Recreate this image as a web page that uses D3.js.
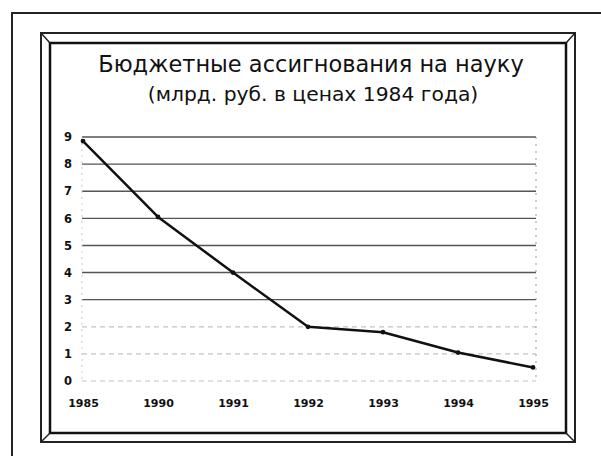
<!DOCTYPE html>
<html>
<head>
<meta charset="utf-8">
<script src="https://cdn.jsdelivr.net/npm/d3@7"></script>
<style>
body{margin:0;background:#fff;}
</style>
</head>
<body>
<div id="chart"></div>
<script>
// данные с графика
var years=["1985","1990","1991","1992","1993","1994","1995"];
var values=[8.85,6.05,4.0,2.0,1.8,1.05,0.5];
var yTicks=[0,1,2,3,4,5,6,7,8,9];
var title="Бюджетные ассигнования на науку";
var subtitle="(млрд. руб. в ценах 1984 года)";

var width=601;
var height=456;
var font="DejaVu Sans, Verdana, sans-serif";

var svg=d3.select("#chart").append("svg")
          .attr("width",width)
          .attr("height",height)
          .style("background-color","#fff");

// внешняя рамка листа
svg.append("path")
   .attr("d","M12,456 L12,13 L601,13")
   .attr("fill","none")
   .attr("stroke","#222")
   .attr("stroke-width",2);

// рамка диаграммы со скосом
var o={x1:41,y1:33,x2:575,y2:442};
var n={x1:50,y1:43,x2:566,y2:433};
svg.append("rect")
   .attr("x",o.x1).attr("y",o.y1)
   .attr("width",o.x2-o.x1).attr("height",o.y2-o.y1)
   .attr("fill","none").attr("stroke","#222").attr("stroke-width",2);
svg.append("rect")
   .attr("x",n.x1).attr("y",n.y1)
   .attr("width",n.x2-n.x1).attr("height",n.y2-n.y1)
   .attr("fill","none").attr("stroke","#111").attr("stroke-width",2.5);
[[o.x1,o.y1,n.x1,n.y1],[o.x2,o.y1,n.x2,n.y1],[o.x1,o.y2,n.x1,n.y2],[o.x2,o.y2,n.x2,n.y2]].forEach(function(c){
  svg.append("line")
     .attr("x1",c[0]).attr("y1",c[1]).attr("x2",c[2]).attr("y2",c[3])
     .attr("stroke","#222").attr("stroke-width",1.5);
});

// заголовки
svg.append("text")
   .text(title)
   .attr("x",311)
   .attr("y",72)
   .attr("text-anchor","middle")
   .attr("font-family",font)
   .attr("font-size",22.5)
   .attr("fill","#111");
svg.append("text")
   .text(subtitle)
   .attr("x",313)
   .attr("y",101)
   .attr("text-anchor","middle")
   .attr("font-family",font)
   .attr("font-size",20.3)
   .attr("fill","#111");

// шкалы
var x=d3.scalePoint()
        .domain(years)
        .range([83,533]);
var y=d3.scaleLinear()
        .domain([0,9])
        .range([381,137]);

// сетка
svg.selectAll("line.grid")
   .data(yTicks)
   .enter()
   .append("line")
   .attr("class","grid")
   .attr("x1",82)
   .attr("x2",536)
   .attr("y1",function(d){ return y(d); })
   .attr("y2",function(d){ return y(d); })
   .attr("stroke",function(d){ return d<3 ? "#c4c4c4" : "#555"; })
   .attr("stroke-width",function(d){ return d<3 ? 1.2 : 1.4; })
   .attr("stroke-dasharray",function(d){ return d<3 ? "5,4" : null; });

svg.append("line")
   .attr("x1",82).attr("x2",82)
   .attr("y1",y(9)).attr("y2",y(0))
   .attr("stroke","#ccc").attr("stroke-width",1)
   .attr("stroke-dasharray","2,4");
svg.append("line")
   .attr("x1",536).attr("x2",536)
   .attr("y1",y(9)).attr("y2",y(0))
   .attr("stroke","#999").attr("stroke-width",1)
   .attr("stroke-dasharray","2,5");

// подписи осей
var yAxis=d3.axisLeft(y).tickValues(yTicks).tickSize(0).tickPadding(0).tickFormat(d3.format("d"));
var gy=svg.append("g")
          .attr("transform","translate(72,0)")
          .call(yAxis);
gy.select(".domain").remove();
gy.selectAll("text")
  .attr("font-family",font)
  .attr("font-weight","bold")
  .attr("font-size",11.5)
  .attr("fill","#111");

var xAxis=d3.axisBottom(x).tickSize(0).tickPadding(0);
var gx=svg.append("g")
          .attr("transform","translate(0,399)")
          .call(xAxis);
gx.select(".domain").remove();
gx.selectAll("text")
  .attr("font-family",font)
  .attr("font-weight","bold")
  .attr("font-size",11)
  .attr("fill","#111");

// линия данных
var line=d3.line()
           .x(function(d,i){ return x(years[i]); })
           .y(function(d){ return y(d); });
svg.append("path")
   .datum(values)
   .attr("d",line)
   .attr("fill","none")
   .attr("stroke","#111")
   .attr("stroke-width",2.5)
   .attr("stroke-linejoin","round");

svg.selectAll("circle.pt")
   .data(values)
   .enter()
   .append("circle")
   .attr("class","pt")
   .attr("cx",function(d,i){ return x(years[i]); })
   .attr("cy",function(d){ return y(d); })
   .attr("r",2.4)
   .attr("fill","#111");
</script>
</body>
</html>
